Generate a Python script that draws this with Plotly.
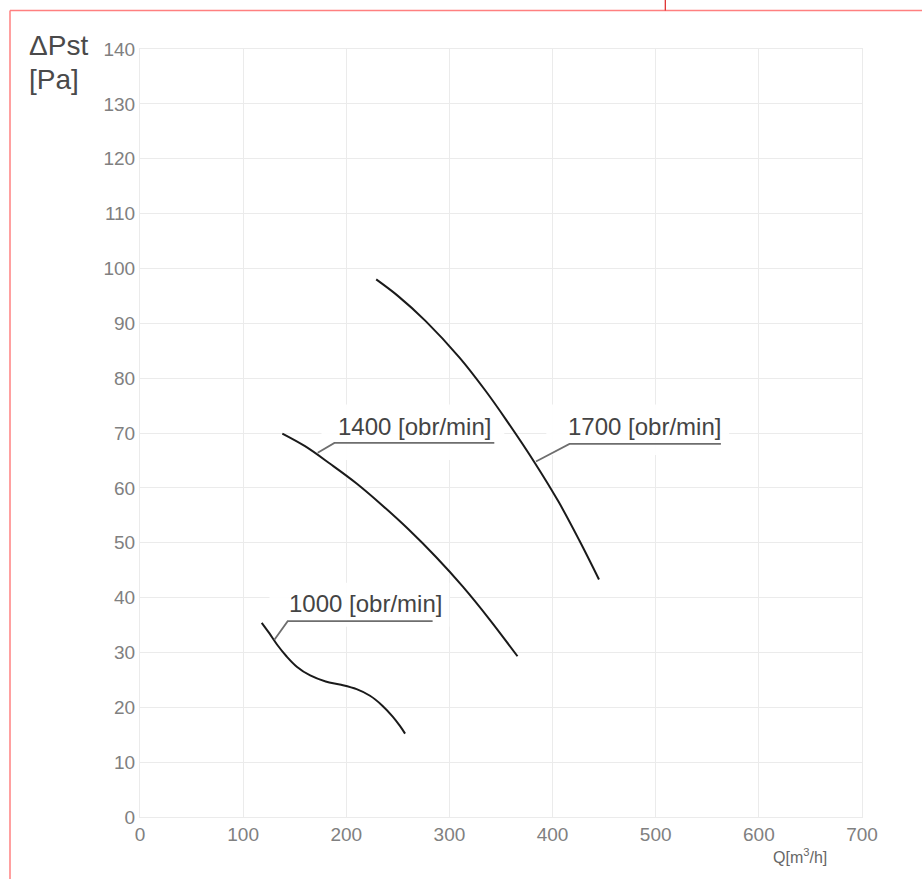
import plotly.graph_objects as go

# ---- data ----
q1000 = [118, 125, 133, 142, 152, 165, 180, 195, 210, 223, 235, 245, 252, 257]
p1000 = [35.4, 33.6, 31.4, 29.3, 27.4, 25.8, 24.7, 24.1, 23.3, 22.1, 20.3, 18.3, 16.6, 15.2]

q1400 = [138, 160, 185, 210, 235, 260, 287, 313, 339, 366]
p1400 = [69.9, 67.6, 64.3, 60.8, 56.8, 52.5, 47.4, 42.0, 36.0, 29.3]

q1700 = [229, 250, 277, 310, 335, 355, 383, 406, 426, 445]
p1700 = [98.0, 95.0, 90.4, 83.7, 77.7, 72.4, 64.5, 57.4, 50.4, 43.3]

labels = ["1000 [obr/min]", "1400 [obr/min]", "1700 [obr/min]"]
x_ticks = [0, 100, 200, 300, 400, 500, 600, 700]
y_ticks = list(range(0, 150, 10))

W, H = 922, 879
L, R, T, B = 140, 60, 49, 62
PW, PH = W - L - R, H - T - B
FONT = "Liberation Sans, Arial, sans-serif"


def px2paper_x(px):
    return (px - L) / PW


def px2paper_y(py):
    return (H - B - py) / PH


fig = go.Figure()

# label background boxes (white, hide grid behind the labels)
boxes = [
    (125.5, 299.9, 34.7, 42.7),
    (175.9, 353.2, 65.1, 75.2),
    (393.9, 571.2, 66.0, 75.2),
]
bx, by = [], []
for x0, x1, y0, y1 in boxes:
    bx += [x0, x1, x1, x0, x0, None]
    by += [y0, y0, y1, y1, y0, None]
fig.add_trace(go.Scatter(x=bx, y=by, mode="lines", fill="toself",
                         fillcolor="rgba(255,255,255,0.92)",
                         line=dict(width=0, color="rgba(0,0,0,0)"),
                         hoverinfo="skip", showlegend=False))

for q, p in [(q1000, p1000), (q1400, p1400), (q1700, p1700)]:
    fig.add_trace(go.Scatter(x=q, y=p, mode="lines",
                             line=dict(color="#1a1a1a", width=2,
                                       shape="spline", smoothing=1.0),
                             showlegend=False))

# leader lines + underlines (curve point -> corner -> end of underline)
leaders = [
    [(130.3, 32.3), (143.2, 35.7), (283.7, 35.7)],
    [(172.3, 66.4), (188.5, 68.2), (343.5, 68.2)],
    [(383.9, 64.8), (416.4, 68.0), (563.2, 68.0)],
]
for pts in leaders:
    path = "M " + " L ".join(f"{x},{y}" for x, y in pts)
    fig.add_shape(type="path", path=path, xref="x", yref="y",
                  line=dict(color="#6e6e6e", width=1.8))

label_pos = [(218.3, 39.0), (266.5, 71.2), (488.9, 71.2)]
for (x, y), t in zip(label_pos, labels):
    fig.add_annotation(x=x, y=y, xref="x", yref="y", text=t, showarrow=False,
                       xanchor="center", yanchor="middle",
                       font=dict(size=24, color="#444444", family=FONT))

# axis titles
fig.add_annotation(x=px2paper_x(27), y=px2paper_y(45), xref="paper", yref="paper",
                   text="ΔPst", showarrow=False, xanchor="left", yanchor="middle",
                   font=dict(size=28, color="#4a4a4a", family=FONT))
fig.add_annotation(x=px2paper_x(27), y=px2paper_y(79), xref="paper", yref="paper",
                   text="[Pa]", showarrow=False, xanchor="left", yanchor="middle",
                   font=dict(size=28, color="#4a4a4a", family=FONT))
fig.add_annotation(x=px2paper_x(800), y=px2paper_y(855.5), xref="paper", yref="paper",
                   text="Q[m<sup>3</sup>/h]", showarrow=False, xanchor="center",
                   yanchor="middle",
                   font=dict(size=16, color="#666666", family=FONT))

# red frame lines
red = "#ff8080"
fig.add_shape(type="line", xref="paper", yref="paper",
              x0=px2paper_x(10), x1=px2paper_x(W), y0=px2paper_y(10.5), y1=px2paper_y(10.5),
              line=dict(color=red, width=1.5))
fig.add_shape(type="line", xref="paper", yref="paper",
              x0=px2paper_x(10), x1=px2paper_x(10), y0=px2paper_y(10.5), y1=px2paper_y(H),
              line=dict(color=red, width=1.5))
fig.add_shape(type="line", xref="paper", yref="paper",
              x0=px2paper_x(665.3), x1=px2paper_x(665.3), y0=px2paper_y(0), y1=px2paper_y(10.5),
              line=dict(color="#dd2222", width=1.2))

grid = "#ebebeb"
axis_common = dict(showgrid=True, gridcolor=grid, gridwidth=1, zeroline=False,
                   showline=True, linecolor=grid, mirror=True,
                   tickfont=dict(size=19, color="#808080", family=FONT),
                   fixedrange=True)
fig.update_xaxes(range=[0, 700], tickvals=x_ticks,
                 ticktext=[str(v) for v in x_ticks], **axis_common)
fig.update_yaxes(range=[0, 140], tickvals=y_ticks,
                 ticktext=[str(v) for v in y_ticks], **axis_common)

fig.update_layout(width=W, height=H, margin=dict(l=L, r=R, t=T, b=B),
                  paper_bgcolor="white", plot_bgcolor="white", showlegend=False)

fig.write_html("out.html",
               config={"displayModeBar": False},
               post_script="document.body.style.margin='0';"
                           "document.body.style.overflow='hidden';")
